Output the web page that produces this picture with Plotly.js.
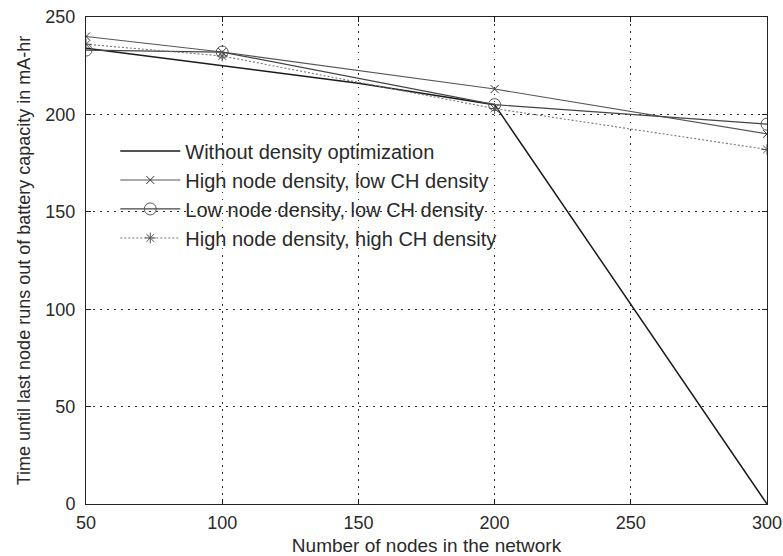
<!DOCTYPE html>
<html>
<head>
<meta charset="utf-8">
<script src="https://cdn.plot.ly/plotly-3.0.1.min.js"></script>
<style>
  html, body { margin: 0; padding: 0; background: #fff; }
  #chart { width: 783px; height: 556px; }
</style>
</head>
<body>
<div id="chart"></div>
<script>
// Network sizes (number of nodes)
const nodesBaseline = [50, 100, 150, 200, 300];
const nodesOptimized = [50, 100, 200, 300];

// Lifetime until last node depletes its battery (mA-hr)
const withoutOptimization = [234, 225, 216, 205, 0];
const highNodeLowCH = [240, 232, 213, 190];
const lowNodeLowCH = [233, 232, 205, 195];
const highNodeHighCH = [236, 230, 203, 182];

const seriesNames = [
  'Without density optimization',
  'High node density, low CH density',
  'Low node density, low CH density',
  'High node density, high CH density'
];

const xTicks = [50, 100, 150, 200, 250, 300];
const yTicks = [0, 50, 100, 150, 200, 250];

const font = '"Liberation Sans", Arial, Helvetica, sans-serif';

const traces = [
  {
    x: nodesBaseline, y: withoutOptimization, name: seriesNames[0],
    mode: 'lines', line: { color: '#1a1a1a', width: 1.5 }
  },
  {
    x: nodesOptimized, y: highNodeLowCH, name: seriesNames[1],
    mode: 'lines+markers', line: { color: '#555', width: 1.1 },
    marker: { symbol: 'x-thin-open', size: 8, color: '#333', line: { width: 1, color: '#333' } }
  },
  {
    x: nodesOptimized, y: lowNodeLowCH, name: seriesNames[2],
    mode: 'lines+markers', line: { color: '#444', width: 1.2 },
    marker: { symbol: 'circle-open', size: 12, color: '#555', line: { width: 1, color: '#555' } }
  },
  {
    x: nodesOptimized, y: highNodeHighCH, name: seriesNames[3],
    mode: 'lines+markers', line: { color: '#777', width: 1.1, dash: '2px,2px' },
    marker: { symbol: 'asterisk-open', size: 9, color: '#555', line: { width: 1, color: '#555' } }
  }
];

const gridStyle = { showgrid: true, gridcolor: '#333', griddash: '1.5px,5.5px', gridwidth: 1.2 };

const layout = {
  width: 783, height: 556,
  paper_bgcolor: '#fff', plot_bgcolor: '#fff',
  margin: { l: 86, r: 16, t: 17, b: 52 },
  font: { family: font, size: 18, color: '#2a2a2a' },
  showlegend: true,
  legend: {
    x: 0.043, y: 0.765, xanchor: 'left', yanchor: 'top',
    bgcolor: 'rgba(255,255,255,0)', borderwidth: 0,
    font: { family: font, size: 20, color: '#2a2a2a' },
    itemwidth: 60, tracegroupgap: 0
  },
  xaxis: Object.assign({
    range: [50, 300], tickvals: xTicks, ticktext: xTicks.map(String),
    ticks: 'inside', ticklen: 5, tickcolor: '#222',
    ticklabelstandoff: 2,
    showline: true, linecolor: '#222', linewidth: 1, mirror: 'ticks',
    zeroline: false,
    tickfont: { family: font, size: 18 },
    title: { text: 'Number of nodes in the network', font: { family: font, size: 19 }, standoff: 8 }
  }, gridStyle),
  yaxis: Object.assign({
    range: [0, 250], tickvals: yTicks, ticktext: yTicks.map(String),
    ticks: 'inside', ticklen: 5, tickcolor: '#222',
    ticklabelstandoff: 6,
    showline: true, linecolor: '#222', linewidth: 1, mirror: 'ticks',
    zeroline: false,
    tickfont: { family: font, size: 18 },
    title: { text: 'Time until last node runs out of battery capacity in mA-hr', font: { family: font, size: 18 }, standoff: 10 }
  }, gridStyle)
};

Plotly.newPlot('chart', traces, layout, { displayModeBar: false, staticPlot: true });
</script>
</body>
</html>
